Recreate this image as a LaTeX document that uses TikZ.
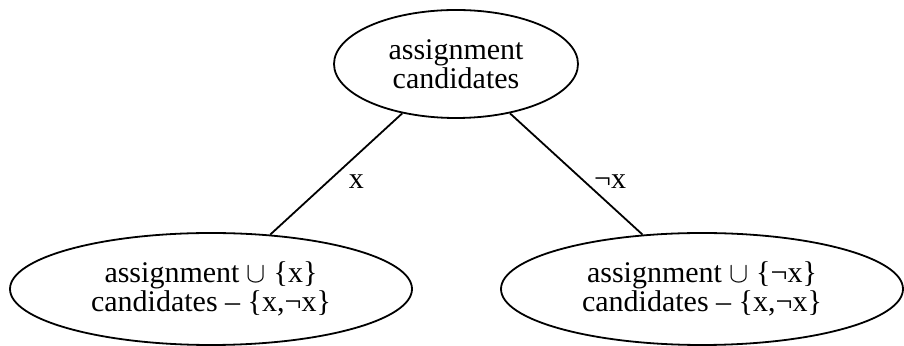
\documentclass[tikz,border=0pt]{standalone}
\usepackage{fontspec}
\setmainfont{Liberation Serif}
\usetikzlibrary{shapes.geometric}
\tikzset{
  oval/.style={draw, ellipse, line width=0.9pt, inner sep=0pt, align=center,
    font=\fontsize{15}{13.5}\selectfont},
  edgeline/.style={line width=0.9pt},
  lbl/.style={font=\fontsize{15}{13.5}\selectfont, inner sep=0pt}
}
\begin{document}
\begin{tikzpicture}[x=1pt,y=1pt]
\useasboundingbox (0,0) rectangle (452,-173);
\node[oval, minimum width=122pt, minimum height=54pt] (top) at (228,-32) {assignment\\candidates};
\node[oval, minimum width=201pt, minimum height=56pt] (left) at (105.5,-144.5) {assignment $\cup$ \{x\}\\candidates – \{x,¬x\}};
\node[oval, minimum width=201pt, minimum height=56pt] (right) at (351,-144.5) {assignment $\cup$ \{¬x\}\\candidates – \{x,¬x\}};
\draw[edgeline] (top) -- node[lbl, pos=0.56, xshift=14pt] {x} (left);
\draw[edgeline] (top) -- node[lbl, pos=0.56, xshift=13pt] {¬x} (right);
\end{tikzpicture}
\end{document}
